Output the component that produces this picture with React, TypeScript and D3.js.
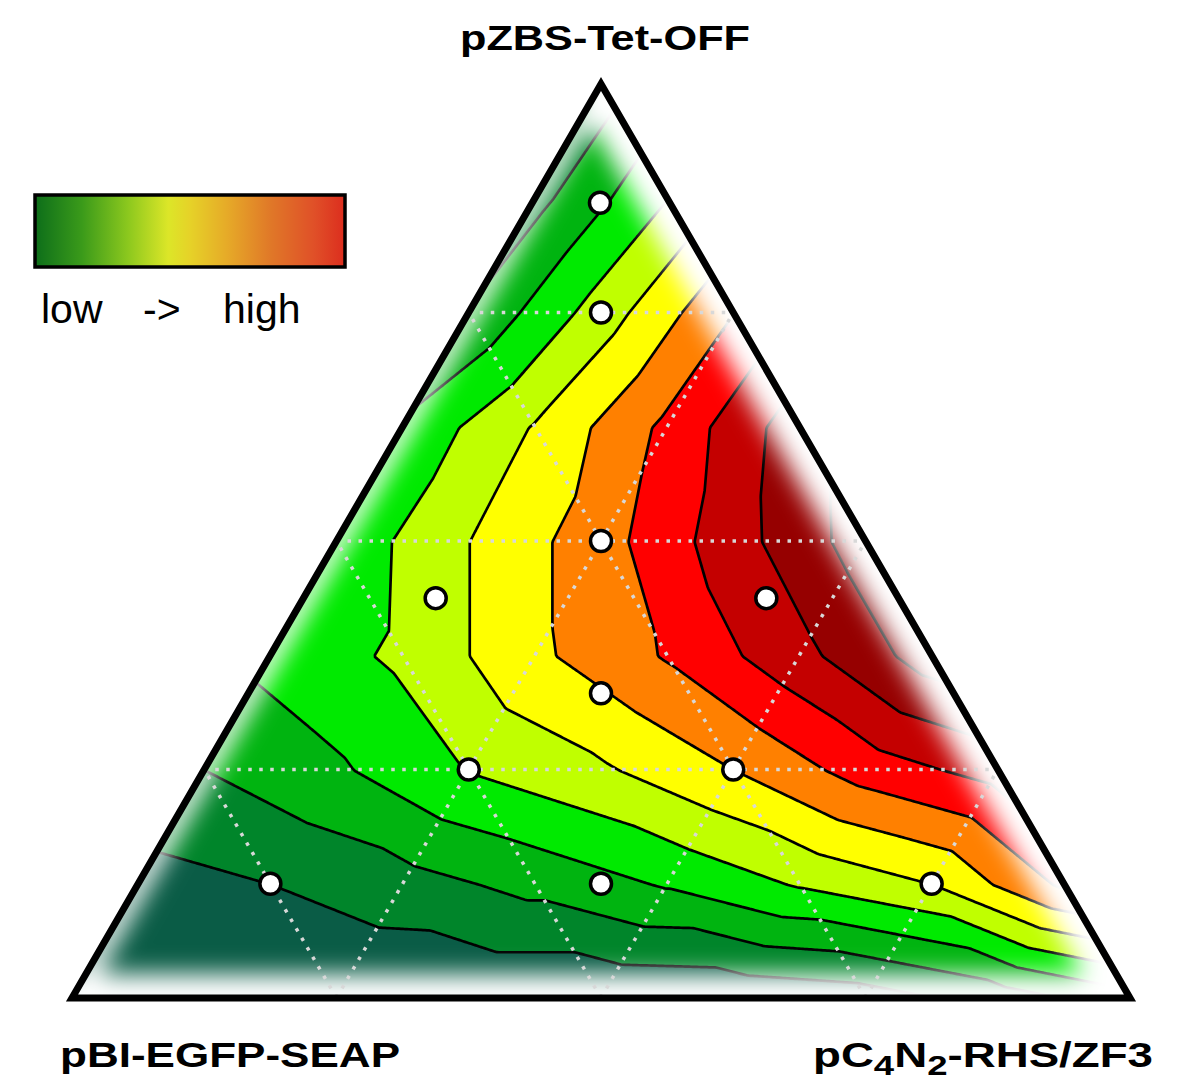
import React, { useEffect, useRef } from "react";
import * as d3 from "d3";

// corners of the ternary plot: top, bottom-left, bottom-right
const axisNames = ["pZBS-Tet-OFF", "pBI-EGFP-SEAP", "pC4N2-RHS/ZF3"];

// response on a 1/8 ternary mesh.
// row i = share of the top plasmid (i/8), entries run left -> right (share of pC4N2 = k/8)
const meshRows: number[][] = [
  [0.8, 0.9, 1.0, 1.1, 1.1, 1.2, 1.5, 2.4, 3.6],
  [1.6, 2.0, 2.6, 3.3, 4.1, 5.1, 6.0, 8.2],
  [3.0, 3.85, 5.05, 5.85, 7.0, 8.45, 9.4],
  [4.3, 5.2, 6.8, 8.1, 9.7, 11.5],
  [4.3, 6.0, 7.6, 9.6, 11.5],
  [4.2, 6.1, 8.26, 10.6],
  [3.1, 5.5, 8.0],
  [2.7, 5.0],
  [2.5],
];

const levels = [2, 3, 4, 5, 6, 7, 8, 9, 10, 11];
const bandColors = [
  "#0a5c46", "#00852a", "#00b410", "#00ea00", "#c0ff00", "#ffff00",
  "#ff8000", "#ff0000", "#c40000", "#960000", "#820000",
];

// measured samples (share of top, share of bottom-right)
const sampleTop = [0.87, 0.75, 0.5, 0.4375, 0.4375, 1 / 3, 0.25, 0.25, 0.125, 0.125, 0.125];
const sampleRight = [0.064, 0.125, 0.25, 0.125, 0.4375, 1 / 3, 0.25, 0.5, 0.125, 0.4375, 0.75];

const gridFractions = [0.25, 0.5, 0.75];

const legendStops = [0, 0.15, 0.3, 0.43, 0.5, 0.62, 0.76, 0.9, 1];
const legendColors = ["#0d6e1a", "#3a9a1a", "#8cc81e", "#dce628", "#e6d228", "#e6aa28", "#e07828", "#e05028", "#dc2d1e"];

function App() {
  const svgRef = useRef<SVGSVGElement | null>(null);

  useEffect(() => {
    drawChart();
  }, []);

  const drawChart = () => {
    const svg = d3.select(svgRef.current);
    svg.selectAll("*").remove();

    const top: [number, number] = [601, 84];
    const bl: [number, number] = [72, 998];
    const br: [number, number] = [1130, 998];

    // ternary (a = top, c = bottom-right) -> pixel
    const toXY = (a: number, c: number): [number, number] => {
      const b = 1 - a - c;
      return [a * top[0] + b * bl[0] + c * br[0], a * top[1] + b * bl[1] + c * br[1]];
    };
    // pixel -> ternary
    const H = bl[1] - top[1];
    const toAC = (x: number, y: number) => {
      const a = (bl[1] - y) / H;
      const c = (x - bl[0] - a * (top[0] - bl[0])) / (br[0] - bl[0]);
      return [a, c];
    };

    const valueAt = (x: number, y: number) => {
      let [a, c] = toAC(x, y);
      a = Math.max(0, Math.min(1, a));
      c = Math.max(0, Math.min(1 - a, c));
      const u = Math.min(a * 8, 8 - 1e-9);
      const w = Math.min(c * 8, 8 - u - 1e-9);
      const i0 = Math.floor(u), k0 = Math.floor(w);
      const fu = u - i0, fw = w - k0;
      const node = (i: number, k: number) => {
        const row = meshRows[Math.min(i, 8)];
        return row[Math.max(0, Math.min(k, row.length - 1))];
      };
      if (fu + fw <= 1) {
        return node(i0, k0) * (1 - fu - fw) + node(i0 + 1, k0) * fu + node(i0, k0 + 1) * fw;
      }
      return node(i0 + 1, k0 + 1) * (fu + fw - 1) + node(i0 + 1, k0) * (1 - fw) + node(i0, k0 + 1) * (1 - fu);
    };

    // raster for d3.contours
    const step = 2;
    const x0 = 60, y0 = 72;
    const nx = Math.ceil((1142 - x0) / step) + 1;
    const ny = Math.ceil((1010 - y0) / step) + 1;
    const values = new Float64Array(nx * ny);
    for (let j = 0; j < ny; j++) {
      for (let i = 0; i < nx; i++) {
        values[i + j * nx] = valueAt(x0 + i * step, y0 + j * step);
      }
    }
    const contours = d3.contours().size([nx, ny]).thresholds(levels)(Array.from(values));
    const path = d3.geoPath(d3.geoIdentity().scale(step).translate([x0, y0]));

    const triPath = `M${top[0]},${top[1]}L${br[0]},${br[1]}L${bl[0]},${bl[1]}Z`;

    const defs = svg.append("defs");
    defs.append("clipPath").attr("id", "tri-clip").append("path").attr("d", triPath);
    defs.append("filter").attr("id", "edge-blur")
      .attr("x", "-20%").attr("y", "-20%").attr("width", "140%").attr("height", "140%")
      .append("feGaussianBlur").attr("stdDeviation", 12);
    const grad = defs.append("linearGradient").attr("id", "legend-grad");
    legendStops.forEach((o, i) => {
      grad.append("stop").attr("offset", o).attr("stop-color", legendColors[i]);
    });

    const plot = svg.append("g").attr("clip-path", "url(#tri-clip)");

    plot.append("path").attr("d", triPath).attr("fill", bandColors[0]);

    plot.selectAll("path.band")
      .data(contours)
      .enter()
      .append("path")
      .attr("class", "band")
      .attr("d", d => path(d as any))
      .attr("fill", (d, i) => bandColors[i + 1]);

    plot.selectAll("path.iso")
      .data(contours)
      .enter()
      .append("path")
      .attr("class", "iso")
      .attr("d", d => path(d as any))
      .attr("fill", "none")
      .attr("stroke", "#000")
      .attr("stroke-width", 2.7);

    // white fade along the inside of the frame
    const glow = plot.append("g").attr("filter", "url(#edge-blur)");
    const edges: [[number, number], [number, number], number][] = [
      [top, bl, 22],
      [bl, br, 48],
      [br, top, 58],
    ];
    edges.forEach(([p, q, w]) => {
      glow.append("line")
        .attr("x1", p[0]).attr("y1", p[1]).attr("x2", q[0]).attr("y2", q[1])
        .attr("stroke", "#fff").attr("stroke-width", w).attr("stroke-linecap", "round");
    });

    // dotted ternary grid
    const gridLines: [number, number][][] = [];
    gridFractions.forEach(f => {
      gridLines.push([toXY(f, 0), toXY(f, 1 - f)]); // constant top share
      gridLines.push([toXY(0, f), toXY(1 - f, f)]); // constant right share
      gridLines.push([toXY(0, 1 - f), toXY(1 - f, 0)]); // constant left share
    });
    plot.selectAll("line.grid")
      .data(gridLines)
      .enter()
      .append("line")
      .attr("class", "grid")
      .attr("x1", d => d[0][0]).attr("y1", d => d[0][1])
      .attr("x2", d => d[1][0]).attr("y2", d => d[1][1])
      .attr("stroke", "#d8d8d8")
      .attr("stroke-width", 3.5)
      .attr("stroke-dasharray", "3.5 7.5");

    // frame
    svg.append("path")
      .attr("d", triPath)
      .attr("fill", "none")
      .attr("stroke", "#000")
      .attr("stroke-width", 7)
      .attr("stroke-linejoin", "miter");

    // samples
    svg.selectAll("circle.sample")
      .data(sampleTop.map((a, i) => toXY(a, sampleRight[i])))
      .enter()
      .append("circle")
      .attr("class", "sample")
      .attr("cx", d => d[0])
      .attr("cy", d => d[1])
      .attr("r", 10.5)
      .attr("fill", "#fff")
      .attr("stroke", "#000")
      .attr("stroke-width", 3.5);

    // legend
    svg.append("rect")
      .attr("x", 35).attr("y", 195).attr("width", 310).attr("height", 72)
      .attr("fill", "url(#legend-grad)")
      .attr("stroke", "#000").attr("stroke-width", 3.5);
    const legendText = svg.append("g")
      .style("font-family", "Arial, 'Liberation Sans', sans-serif")
      .style("font-size", "41px");
    [["low", 41], ["->", 143], ["high", 223]].forEach(([t, x]) => {
      legendText.append("text").attr("x", x as number).attr("y", 323).text(t as string);
    });

    // corner labels
    const labels = svg.append("g")
      .style("font-family", "Arial, 'Liberation Sans', sans-serif")
      .style("font-weight", "bold")
      .style("font-size", "35px");
    labels.append("text")
      .attr("x", 605).attr("y", 50)
      .attr("text-anchor", "middle")
      .attr("textLength", 290).attr("lengthAdjust", "spacingAndGlyphs")
      .text(axisNames[0]);
    labels.append("text")
      .attr("x", 60).attr("y", 1067)
      .attr("textLength", 340).attr("lengthAdjust", "spacingAndGlyphs")
      .text(axisNames[1]);
    const right = labels.append("text")
      .attr("x", 813).attr("y", 1067)
      .attr("textLength", 340).attr("lengthAdjust", "spacingAndGlyphs");
    right.append("tspan").text("pC");
    right.append("tspan").attr("dy", 8).style("font-size", "28px").text("4");
    right.append("tspan").attr("dy", -8).text("N");
    right.append("tspan").attr("dy", 8).style("font-size", "28px").text("2");
    right.append("tspan").attr("dy", -8).text("-RHS/ZF3");
  };

  return (
    <div style={{ position: "absolute", left: 0, top: 0 }}>
      <svg ref={svgRef} width={1200} height={1092} style={{ display: "block", background: "#fff" }} />
    </div>
  );
}

export default App;
